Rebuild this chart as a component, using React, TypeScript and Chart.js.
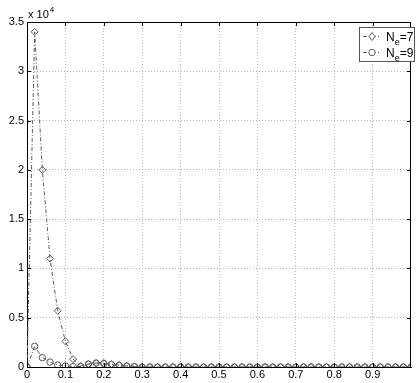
import React, { useEffect, useRef } from "react";
import { Chart, registerables } from "chart.js";
Chart.register(...registerables);

const xValues = [
  0, 0.02, 0.04, 0.06, 0.08, 0.1, 0.12, 0.14, 0.16, 0.18,
  0.2, 0.22, 0.24, 0.26, 0.28, 0.3, 0.32, 0.34, 0.36, 0.38,
  0.4, 0.42, 0.44, 0.46, 0.48, 0.5, 0.52, 0.54, 0.56, 0.58,
  0.6, 0.62, 0.64, 0.66, 0.68, 0.7, 0.72, 0.74, 0.76, 0.78,
  0.8, 0.82, 0.84, 0.86, 0.88, 0.9, 0.92, 0.94, 0.96, 0.98, 1.0,
];
// values in units of 10^4
const ne7Values = [
  0, 3.4, 2.0, 1.1, 0.57, 0.26, 0.08, 0.01, 0.03, 0.04,
  0.04, 0.03, 0.02, 0.01, 0.005, 0, 0, 0, 0, 0,
  0, 0, 0, 0, 0, 0, 0, 0, 0, 0,
  0, 0, 0, 0, 0, 0, 0, 0, 0, 0,
  0, 0, 0, 0, 0, 0, 0, 0, 0, 0, 0,
];
const ne9Values = [
  0, 0.21, 0.095, 0.05, 0.02, 0.01, 0.005, 0.005, 0.03, 0.04,
  0.035, 0.025, 0.015, 0.01, 0.005, 0, 0, 0, 0, 0,
  0, 0, 0, 0, 0, 0, 0, 0, 0, 0,
  0, 0, 0, 0, 0, 0, 0, 0, 0, 0,
  0, 0, 0, 0, 0, 0, 0, 0, 0, 0, 0,
];
const seriesNames = ["7", "9"];
const xTicks = [0, 0.1, 0.2, 0.3, 0.4, 0.5, 0.6, 0.7, 0.8, 0.9];
const yTicks = [0, 0.5, 1, 1.5, 2, 2.5, 3, 3.5];

const FONT = "'Liberation Sans', Arial, sans-serif";
const LINE = "#5a5a5a";

const extras = {
  id: "extras",
  afterDraw(chart: any) {
    const { ctx, chartArea } = chart;
    const { left, right, top, bottom } = chartArea;
    const xs = chart.scales.x;
    const ys = chart.scales.y;
    ctx.save();
    // box
    ctx.strokeStyle = "#000";
    ctx.lineWidth = 1;
    ctx.beginPath();
    ctx.moveTo(left + 0.5, top + 0.5);
    ctx.lineTo(right - 0.5, top + 0.5);
    ctx.lineTo(right - 0.5, bottom + 0.5);
    ctx.stroke();
    // inward ticks
    ctx.beginPath();
    xTicks.forEach((v) => {
      const px = Math.round(xs.getPixelForValue(v)) + 0.5;
      ctx.moveTo(px, bottom);
      ctx.lineTo(px, bottom - 4);
      ctx.moveTo(px, top);
      ctx.lineTo(px, top + 4);
    });
    yTicks.forEach((v) => {
      const py = Math.round(ys.getPixelForValue(v)) + 0.5;
      ctx.moveTo(left, py);
      ctx.lineTo(left + 4, py);
      ctx.moveTo(right, py);
      ctx.lineTo(right - 4, py);
    });
    ctx.stroke();
    // exponent label
    ctx.fillStyle = "#000";
    ctx.textBaseline = "alphabetic";
    ctx.textAlign = "left";
    ctx.font = `11px ${FONT}`;
    ctx.fillText("x 10", left + 1, top - 4);
    const w = ctx.measureText("x 10").width;
    ctx.font = `8px ${FONT}`;
    ctx.fillText("4", left + 1 + w + 1, top - 10);
    // legend
    const lx = 359, ly = 27, lw = 55, lh = 34;
    ctx.fillStyle = "#fff";
    ctx.fillRect(lx, ly, lw, lh);
    ctx.strokeStyle = "#555";
    ctx.strokeRect(lx + 0.5, ly + 0.5, lw, lh);
    const rows = [ly + 9, ly + 25];
    rows.forEach((ry, i) => {
      ctx.strokeStyle = LINE;
      ctx.setLineDash(i === 0 ? [4, 2, 1, 2] : [4, 2, 1, 2]);
      ctx.beginPath();
      ctx.moveTo(lx + 4, ry + 0.5);
      ctx.lineTo(lx + 22, ry + 0.5);
      ctx.stroke();
      ctx.setLineDash([]);
      ctx.fillStyle = "#fff";
      ctx.beginPath();
      const mx = lx + 13;
      if (i === 0) {
        ctx.moveTo(mx, ry - 3.5);
        ctx.lineTo(mx + 3, ry + 0.5);
        ctx.lineTo(mx, ry + 4.5);
        ctx.lineTo(mx - 3, ry + 0.5);
        ctx.closePath();
      } else {
        ctx.arc(mx, ry + 0.5, 3.2, 0, Math.PI * 2);
      }
      ctx.fill();
      ctx.stroke();
      ctx.fillStyle = "#000";
      ctx.font = `12px ${FONT}`;
      const tx = lx + 27;
      ctx.fillText("N", tx, ry + 5);
      const nw = ctx.measureText("N").width;
      ctx.font = `9px ${FONT}`;
      ctx.fillText("e", tx + nw, ry + 9);
      const ew = ctx.measureText("e").width;
      ctx.font = `12px ${FONT}`;
      ctx.fillText("=" + seriesNames[i], tx + nw + ew, ry + 5);
    });
    ctx.restore();
  },
};

export default function App() {
  const ref = useRef<HTMLCanvasElement>(null);
  useEffect(() => {
    document.body.style.margin = "0";
    const c = ref.current!;
    const chart = new Chart(c, {
      type: "line",
      data: {
        datasets: [
          {
            label: "Ne=7",
            data: xValues.map((x, i) => ({ x, y: ne7Values[i] })),
            borderColor: LINE,
            borderWidth: 1,
            borderDash: [4, 2, 1, 2],
            pointStyle: "rectRot",
            pointRadius: 3.5,
            pointBorderColor: LINE,
            pointBackgroundColor: "rgba(255,255,255,0)",
            pointBorderWidth: 1,
            tension: 0,
          },
          {
            label: "Ne=9",
            data: xValues.map((x, i) => ({ x, y: ne9Values[i] })),
            borderColor: LINE,
            borderWidth: 1,
            borderDash: [4, 2, 1, 2],
            pointStyle: "circle",
            pointRadius: 3.2,
            pointBorderColor: LINE,
            pointBackgroundColor: "rgba(255,255,255,0)",
            pointBorderWidth: 1,
            tension: 0,
          },
        ],
      },
      options: {
        animation: false,
        responsive: false,
        devicePixelRatio: 1,
        layout: { padding: { top: 22, right: 1, left: 0, bottom: 0 } },
        plugins: { legend: { display: false }, tooltip: { enabled: false } },
        scales: {
          x: {
            type: "linear",
            min: 0,
            max: 1,
            afterFit: (s: any) => { s.height = 16; },
            afterBuildTicks: (s: any) => { s.ticks = xTicks.map((v) => ({ value: v })); },
            ticks: {
              color: "#000",
              padding: 1,
              maxRotation: 0,
              autoSkip: false,
              font: { family: FONT, size: 11 },
              callback: (v: any) => String(v),
            },
            grid: { color: "#b8b8b8", drawTicks: false, lineWidth: 1 },
            border: { color: "#000", dash: [1, 2] },
          },
          y: {
            type: "linear",
            min: 0,
            max: 3.5,
            afterFit: (s: any) => { s.width = 27; },
            afterBuildTicks: (s: any) => { s.ticks = yTicks.map((v) => ({ value: v })); },
            ticks: {
              color: "#000",
              padding: 3,
              autoSkip: false,
              font: { family: FONT, size: 11 },
              callback: (v: any) => String(v),
            },
            grid: { color: "#b8b8b8", drawTicks: false, lineWidth: 1 },
            border: { color: "#000", dash: [1, 2] },
          },
        },
      },
      plugins: [extras],
    });
    return () => chart.destroy();
  }, []);
  return (
    <div style={{ width: 416, height: 383, background: "#fff" }}>
      <canvas ref={ref} width={416} height={383} style={{ display: "block" }} />
    </div>
  );
}
